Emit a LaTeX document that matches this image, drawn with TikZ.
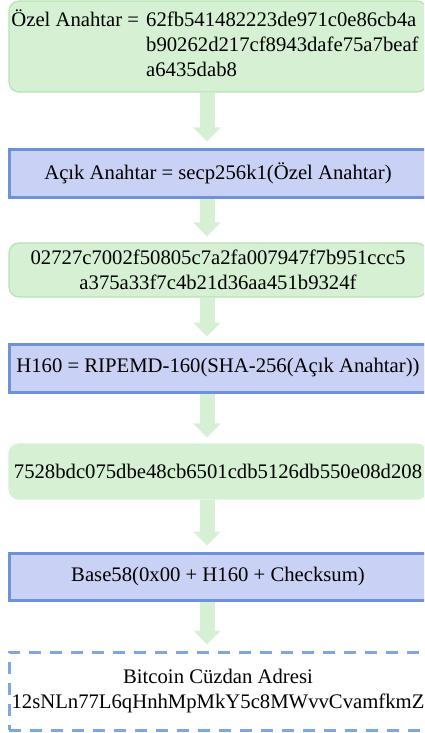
\documentclass[tikz,border=0pt]{standalone}
\usepackage{fontspec}
\setmainfont{Liberation Serif}
\usetikzlibrary{arrows.meta,backgrounds}
\definecolor{gfill}{RGB}{213,240,211}
\definecolor{gdraw}{RGB}{182,228,178}
\definecolor{bfill}{RGB}{201,210,245}
\definecolor{bdraw}{RGB}{108,146,220}
\definecolor{ddraw}{RGB}{126,166,224}
\definecolor{arr}{RGB}{213,240,211}
\begin{document}
\begin{tikzpicture}[x=1pt,y=-1pt,
  every node/.style={font=\fontsize{20.7}{24.9}\selectfont, text=black, inner sep=0pt, align=center, minimum width=418pt},
  greenbox/.style={draw=gdraw, fill=gfill, line width=1.2pt, rounded corners=10pt},
  bluebox/.style={draw=bdraw, fill=bfill, line width=3pt},
  dashbox/.style={draw=ddraw, line width=3pt, dash pattern=on 12pt off 9pt},
  flow/.style={draw=arr, line width=15pt, -{Triangle[length=14pt,width=27pt]}, shorten >=6pt}]
\useasboundingbox (0,0) rectangle (424,733);
\clip (0,0) rectangle (424,733);
\node[greenbox, minimum height=91pt] (b1) at (218,46.5) {\hspace*{-6pt}\begin{tabular}{@{}l@{\hspace{7pt}}l@{}}Özel Anahtar =&62fb541482223de971c0e86cb4a\\ &b90262d217cf8943dafe75a7beaf\\ &a6435dab8\end{tabular}};
\node[bluebox, minimum height=48pt] (b2) at (218,173) {Açık Anahtar = secp256k1(Özel Anahtar)};
\node[greenbox, minimum height=54pt] (b3) at (218,270) {02727c7002f50805c7a2fa007947f7b951ccc5\\a375a33f7c4b21d36aa451b9324f};
\node[bluebox, minimum height=48pt] (b4) at (218,368) {H160 = RIPEMD-160(SHA-256(Açık Anahtar))};
\node[greenbox, draw=gfill, minimum height=55pt] (b5) at (218,471.5) {7528bdc075dbe48cb6501cdb5126db550e08d208};
\node[bluebox, minimum height=47pt] (b6) at (218,576.5) {Base58(0x00 + H160 + Checksum)};
\node[dashbox, minimum height=78pt] (b7) at (218,691) {Bitcoin Cüzdan Adresi\\12sNLn77L6qHnhMpMkY5c8MWvvCvamfkmZ};
\begin{scope}[on background layer]
\draw[flow] ([xshift=-11pt]b1.south) -- ([xshift=-11pt]b2.north);
\draw[flow] ([xshift=-11pt]b2.south) -- ([xshift=-11pt]b3.north);
\draw[flow] ([xshift=-11pt]b3.south) -- ([xshift=-11pt]b4.north);
\draw[flow] ([xshift=-11pt]b4.south) -- ([xshift=-11pt]b5.north);
\draw[flow] ([xshift=-11pt]b5.south) -- ([xshift=-11pt]b6.north);
\draw[flow] ([xshift=-11pt]b6.south) -- ([xshift=-11pt]b7.north);
\end{scope}
\end{tikzpicture}
\end{document}
